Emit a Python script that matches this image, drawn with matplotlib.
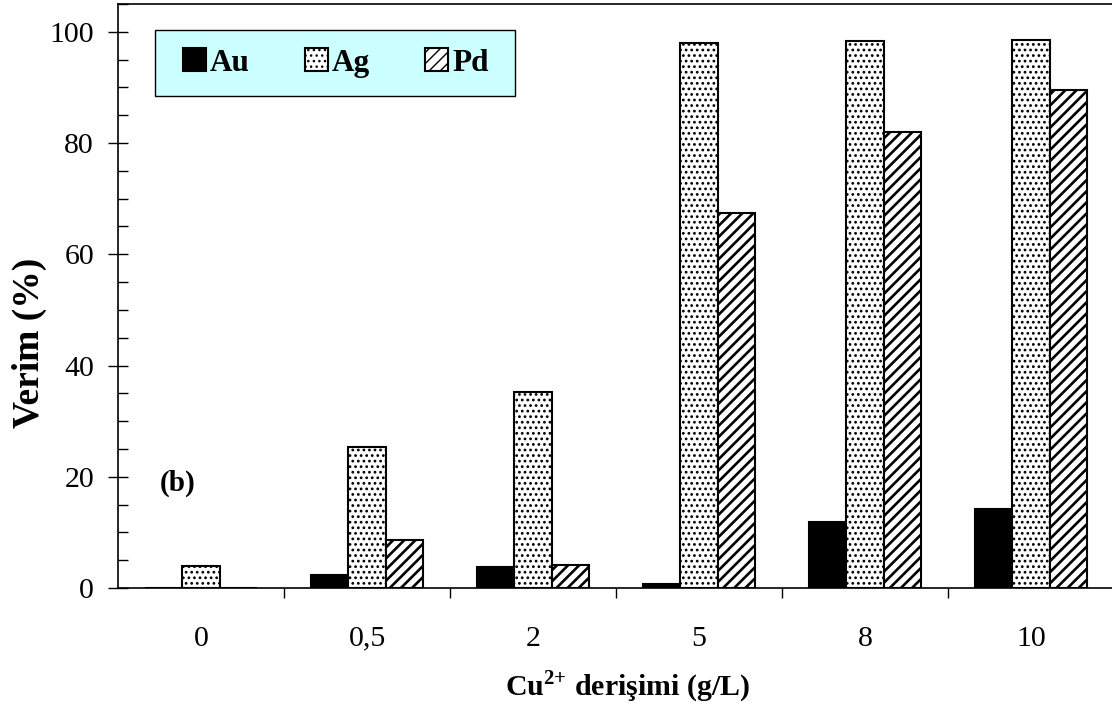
import matplotlib
matplotlib.use("Agg")
import matplotlib.pyplot as plt
import numpy as np
from matplotlib.patches import Rectangle
from matplotlib.ticker import MultipleLocator, FixedLocator, NullFormatter, FixedFormatter

# Cu2+ concentration groups and recovery yields (%)
categories = ["0", "0,5", "2", "5", "8", "10"]
au = [0.0, 2.3, 3.8, 0.7, 11.9, 14.2]
ag = [4.0, 25.4, 35.3, 98.0, 98.4, 98.6]
pd_ = [0.0, 8.6, 4.1, 67.5, 81.9, 89.6]

plt.rcParams["font.family"] = "Liberation Serif"
plt.rcParams["mathtext.fontset"] = "custom"
plt.rcParams["mathtext.rm"] = "Liberation Serif:bold"
plt.rcParams["mathtext.bf"] = "Liberation Serif:bold"
plt.rcParams["hatch.color"] = "black"

W, H = 1112, 708
fig = plt.figure(figsize=(W / 100, H / 100), dpi=100)
ax = fig.add_axes([118 / W, 1 - 588 / H, 996 / W, 584 / H])

x = np.arange(len(categories))
w = 0.226

ax.bar(x - w, au, w, color="black", edgecolor="black", linewidth=1.5, label="Au", zorder=2)
with plt.rc_context({"hatch.linewidth": 1.2}):
    ax.bar(x, ag, w, color="white", edgecolor="black", linewidth=1.5,
           hatch="...", label="Ag", zorder=2)
with plt.rc_context({"hatch.linewidth": 1.9}):
    ax.bar(x + w, pd_, w, color="white", edgecolor="black", linewidth=1.5,
           hatch="///", label="Pd", zorder=2)

ax.set_xlim(-0.5, len(categories) - 0.5)
ax.set_ylim(0, 105)

# y axis: labelled majors outside, minors inside every 5
ax.yaxis.set_minor_locator(MultipleLocator(5))
ax.yaxis.remove_overlapping_locs = False
ax.set_yticks(np.arange(0, 101, 20))
ax.tick_params(axis="y", which="major", direction="out", length=7.2, width=1,
               labelsize=21.5, pad=10)
ax.tick_params(axis="y", which="minor", direction="in", length=7, width=1)

# x axis: boundary ticks outside, category labels on inner centre ticks
ax.xaxis.set_major_locator(FixedLocator(np.arange(0.5, len(categories) - 0.5, 1)))
ax.xaxis.set_major_formatter(NullFormatter())
ax.xaxis.set_minor_locator(FixedLocator(x))
ax.xaxis.set_minor_formatter(FixedFormatter(categories))
ax.tick_params(axis="x", which="major", direction="out", length=7.2, width=1)
ax.tick_params(axis="x", which="minor", direction="in", length=3.5, width=1,
               labelsize=21.5, pad=27)

for s in ax.spines.values():
    s.set_linewidth(1.2)

ax.set_ylabel("Verim (%)", fontsize=27, fontweight="bold")
ax.yaxis.set_label_coords(-0.071, 0.42)
ax.set_xlabel(r"Cu$^{2{+}}$ derişimi (g/L)", fontsize=21.5, fontweight="bold")
ax.xaxis.set_label_coords(0.512, -0.138)

ax.text(-0.25, 18.9, "(b)", fontsize=21, fontweight="bold", ha="left", va="center")

# legend box drawn as a figure patch, entries placed inside it
fig.patches.append(Rectangle((155 / W, 1 - 96 / H), 360 / W, 66 / H,
                             transform=fig.transFigure, facecolor="#CCFFFF",
                             edgecolor="black", linewidth=1, zorder=4))
leg = fig.legend(loc="center left", bbox_to_anchor=(183 / W, 1 - 63 / H),
                 ncol=3, frameon=False,
                 prop={"family": "Liberation Serif", "weight": "bold", "size": 22.5},
                 handlelength=0.72, handleheight=0.72, handletextpad=0.15,
                 columnspacing=1.76, borderpad=0, borderaxespad=0)
leg.set_zorder(5)

fig.savefig("out.png", dpi=100)
